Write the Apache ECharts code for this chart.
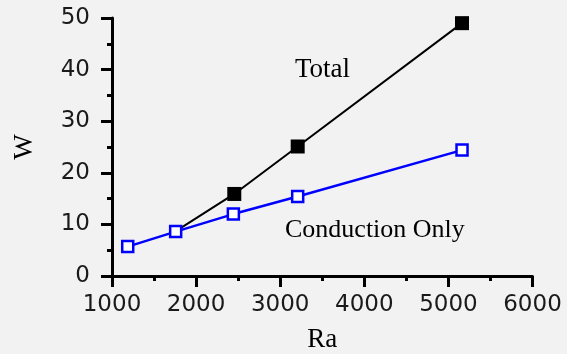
<!DOCTYPE html>
<html>
<head>
<meta charset="utf-8">
<script src="https://cdn.jsdelivr.net/npm/echarts@6/dist/echarts.min.js"></script>
<style>
html,body{margin:0;padding:0;background:#f2f2f2;}
#c{width:567px;height:354px;}
</style>
</head>
<body>
<div id="c"></div>
<script>
const xTicks = [1000, 2000, 3000, 4000, 5000, 6000];
const yTicks = [0, 10, 20, 30, 40, 50];
const totalRa = [1750, 2454, 3208, 5162];
const totalW = [8.6, 15.9, 25.1, 49.0];
const condRa = [1187, 1757, 2443, 3208, 5162];
const condW = [5.7, 8.6, 12.0, 15.4, 24.4];
const labelTotal = 'Total';
const labelCond = 'Conduction Only';

const chart = echarts.init(document.getElementById('c'));
const axisLineStyle = {color: '#000', width: 3};
const tickLabel = {color: '#1a1a1a', fontFamily: 'DejaVu Sans', fontSize: 23, formatter: v => String(v)};

chart.setOption({
  backgroundColor: '#f2f2f2',
  animation: false,
  grid: {left: 112, right: 34.5, top: 18, bottom: 78, containLabel: false, outerBoundsMode: 'none'},
  xAxis: {
    type: 'value', min: xTicks[0], max: xTicks[xTicks.length - 1], interval: 1000,
    name: 'Ra', nameLocation: 'middle', nameGap: 50,
    nameTextStyle: {fontFamily: 'Liberation Serif', fontSize: 27, color: '#000'},
    axisLine: {show: true, lineStyle: axisLineStyle},
    axisTick: {show: true, inside: false, length: 11, lineStyle: {color: '#000', width: 3}},
    minorTick: {show: true, splitNumber: 2, length: 5, lineStyle: {color: '#000', width: 3}},
    axisLabel: Object.assign({margin: 18}, tickLabel),
    splitLine: {show: false}
  },
  yAxis: {
    type: 'value', min: yTicks[0], max: yTicks[yTicks.length - 1], interval: 10,
    name: 'W', nameLocation: 'middle', nameGap: 74, nameRotate: 90,
    nameTextStyle: {fontFamily: 'Liberation Serif', fontSize: 27, color: '#000'},
    axisLine: {show: true, lineStyle: axisLineStyle},
    axisTick: {show: true, inside: false, length: 11, lineStyle: {color: '#000', width: 3}},
    minorTick: {show: true, splitNumber: 2, length: 5, lineStyle: {color: '#000', width: 3}},
    axisLabel: Object.assign({margin: 22}, tickLabel),
    splitLine: {show: false}
  },
  series: [
    {
      type: 'line',
      data: totalRa.map((x, i) => i === 0 ? {value: [x, totalW[i]], symbol: 'none'} : [x, totalW[i]]),
      symbol: 'rect', symbolSize: 14,
      itemStyle: {color: '#000'},
      lineStyle: {color: '#000', width: 2},
      z: 2
    },
    {
      type: 'line',
      data: condRa.map((x, i) => [x, condW[i]]),
      symbol: 'rect', symbolSize: 11,
      itemStyle: {color: '#ffffff', borderColor: '#0000ff', borderWidth: 2.5},
      lineStyle: {color: '#0000ff', width: 2.5},
      z: 3
    }
  ],
  graphic: [
    {type: 'text', left: 295, top: 56, style: {text: labelTotal, font: '27px "Liberation Serif"', fill: '#000'}},
    {type: 'text', left: 285, top: 217, style: {text: labelCond, font: '26px "Liberation Serif"', fill: '#000'}}
  ]
});
</script>
</body>
</html>
